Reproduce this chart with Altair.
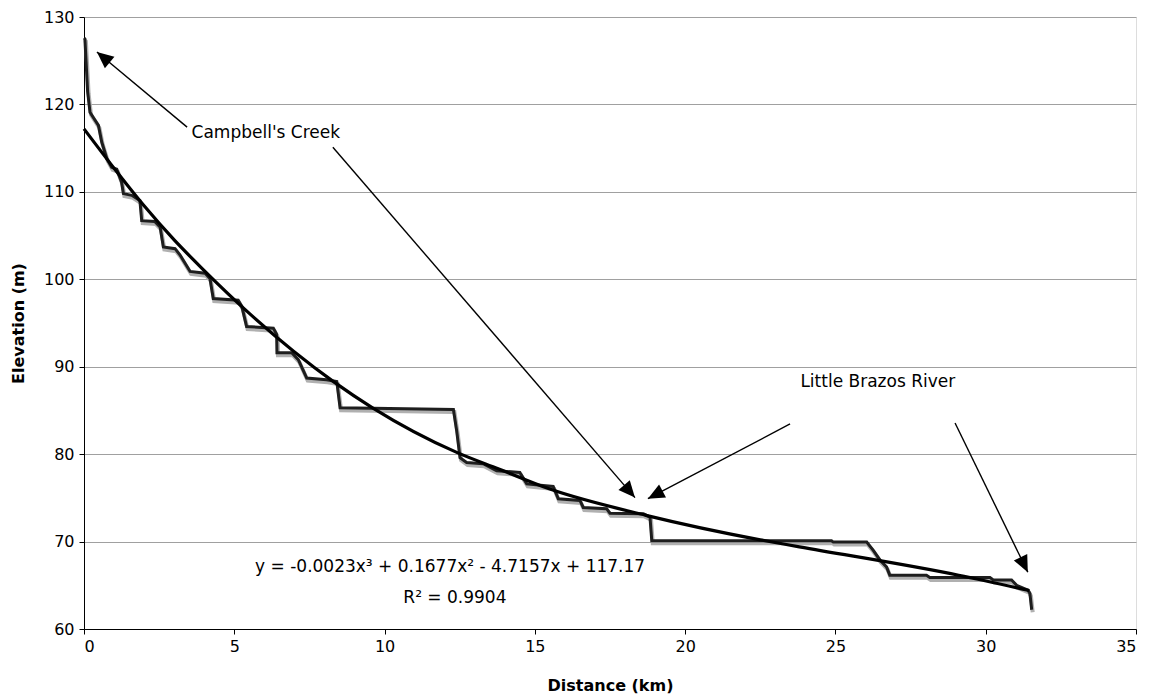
import math
import altair as alt
import pandas as pd

# ---- profile ----
dist_km = [0.00, 0.03, 0.12, 0.20, 0.31, 0.48, 0.59, 0.76, 0.92, 1.09, 1.25, 1.31, 1.59, 1.86,
           1.92, 2.36, 2.53, 2.64, 3.03, 3.19, 3.53, 4.03, 4.19, 4.30, 5.13, 5.25, 5.41, 6.30,
           6.41, 6.42, 6.91, 7.13, 7.41, 8.07, 8.41, 8.52, 12.29, 12.40, 12.51, 12.73, 13.28,
           13.73, 14.50, 14.73, 15.61, 15.78, 16.50, 16.61, 17.39, 17.50, 18.61, 18.83, 18.89,
           23.82, 24.87, 24.93, 26.04, 26.26, 26.48, 26.70, 26.81, 28.03, 28.14, 30.14, 30.25,
           30.86, 31.03, 31.41, 31.47, 31.53]
elev_m = [127.6, 127.5, 121.5, 119.1, 118.5, 117.6, 115.7, 113.8, 112.8, 112.6, 111.1, 109.8,
          109.6, 109.0, 106.7, 106.6, 106.0, 103.7, 103.5, 102.8, 100.9, 100.7, 100.1, 97.8,
          97.6, 96.9, 94.6, 94.4, 93.7, 91.6, 91.6, 90.8, 88.7, 88.5, 88.3, 85.3, 85.1, 82.65,
          79.6, 79.05, 78.9, 78.1, 77.9, 76.6, 76.3, 74.9, 74.7, 73.9, 73.75, 73.25, 73.17, 72.8,
          70.1, 70.1, 70.1, 69.94, 69.94, 69.0, 67.9, 67.1, 66.15, 66.15, 65.9, 65.9, 65.6,
          65.6, 65.0, 64.44, 64.07, 62.2]

# ---- polynomial trend line ----
trend_x = [0.0, 1.0, 2.0, 3.0, 4.0, 5.5, 8.3, 9.6, 12.4, 13.8, 15.5, 18.7, 22.5, 23.8, 29.1, 31.45]
trend_y = [117.2, 112.7, 108.4, 104.5, 101.0, 96.1, 88.3, 85.3, 80.2, 78.3, 76.0, 73.0, 70.2,
           69.4, 66.15, 64.4]

# ---- annotations ----
ann_label = ["Campbell's Creek", "Campbell's Creek", "Little Brazos River", "Little Brazos River"]
ann_x1 = [3.43, 8.28, 23.49, 28.98]
ann_y1 = [117.4, 115.1, 83.45, 83.56]
ann_x2 = [0.43, 18.33, 18.76, 31.40]
ann_y2 = [126.0, 75.03, 74.90, 66.50]

text_label = ["Campbell's Creek", "Little Brazos River",
              "y = -0.0023x³ + 0.1677x² - 4.7157x + 117.17", "R² = 0.9904"]
text_x = [6.05, 26.41, 12.18, 12.34]
text_y = [116.7, 88.2, 67.1, 63.5]

x_ticks = [0, 5, 10, 15, 20, 25, 30, 35]
y_ticks = [60, 70, 80, 90, 100, 110, 120, 130]

W, H = 1052, 612
FONT = "DejaVu Sans"

profile = pd.DataFrame({"d": dist_km, "e": elev_m, "i": range(len(dist_km))})
trend = pd.DataFrame({"d": trend_x, "e": trend_y})

px_per_km = W / 35.0
px_per_m = H / 70.0
angles = []
for a, b, c, d in zip(ann_x1, ann_y1, ann_x2, ann_y2):
    dx = (c - a) * px_per_km
    dy = -(d - b) * px_per_m
    angles.append(math.degrees(math.atan2(dx, -dy)) % 360)
arrows = pd.DataFrame({"lab": ann_label, "x1": ann_x1, "y1": ann_y1,
                       "x2": ann_x2, "y2": ann_y2, "ang": angles})
texts = pd.DataFrame({"t": text_label, "x": text_x, "y": text_y})

xs = alt.Scale(domain=[0, 35], nice=False)
ys = alt.Scale(domain=[60, 130], nice=False)

xaxis = alt.Axis(values=x_ticks, title="Distance (km)", grid=False, tickSize=5,
                 labelPadding=4, labelFontSize=16, titleFontSize=16, titleFontWeight="bold",
                 titleY=56, titleBaseline="middle", domainColor="#000", tickColor="#000",
                 labelColor="#000", titleColor="#000", labelFont=FONT, titleFont=FONT)
yaxis = alt.Axis(values=y_ticks, title="Elevation (m)", grid=True, gridColor="#a0a0a0",
                 gridWidth=1, tickSize=5, labelPadding=5, labelFontSize=16, titleFontSize=16,
                 titleFontWeight="bold", titleX=-66, titleAngle=270, titleBaseline="middle",
                 domainColor="#000", tickColor="#000", labelColor="#000", titleColor="#000",
                 labelFont=FONT, titleFont=FONT)

shadow = alt.Chart(profile).mark_line(color="#b0b0b0", strokeWidth=4, yOffset=2.5, xOffset=1,
                                      strokeJoin="miter").encode(
    x=alt.X("d:Q", scale=xs, axis=xaxis),
    y=alt.Y("e:Q", scale=ys, axis=yaxis),
    order="i:Q")
prof = alt.Chart(profile).mark_line(color="#1e1e1e", strokeWidth=3, strokeJoin="miter").encode(
    x=alt.X("d:Q", scale=xs), y=alt.Y("e:Q", scale=ys), order="i:Q")
trend_line = alt.Chart(trend).mark_line(color="#000", strokeWidth=3.2,
                                        interpolate="monotone").encode(
    x=alt.X("d:Q", scale=xs), y=alt.Y("e:Q", scale=ys))

arrow_lines = alt.Chart(arrows).mark_rule(color="#000", strokeWidth=1.4).encode(
    x=alt.X("x1:Q", scale=xs), y=alt.Y("y1:Q", scale=ys), x2="x2:Q", y2="y2:Q")
heads = alt.Chart(arrows).mark_point(shape="M0,0L-0.45,1L0.45,1Z", filled=True, color="#000",
                                     opacity=1, size=1100).encode(
    x=alt.X("x2:Q", scale=xs), y=alt.Y("y2:Q", scale=ys), angle=alt.Angle("ang:Q", scale=None))

labels = alt.Chart(texts).mark_text(font=FONT, fontSize=17, color="#000", align="center",
                                    baseline="middle").encode(
    x=alt.X("x:Q", scale=xs), y=alt.Y("y:Q", scale=ys), text="t:N")

chart = alt.layer(shadow, prof, trend_line, arrow_lines, heads, labels).properties(
    width=W, height=H,
    autosize=alt.AutoSizeParams(type="none"),
    padding={"left": 76, "top": 9, "right": 14, "bottom": 70},
).configure_view(stroke="#000", strokeWidth=1.5).configure(background="white")

chart.save("out.html", embed_options={"renderer": "svg", "actions": False})
